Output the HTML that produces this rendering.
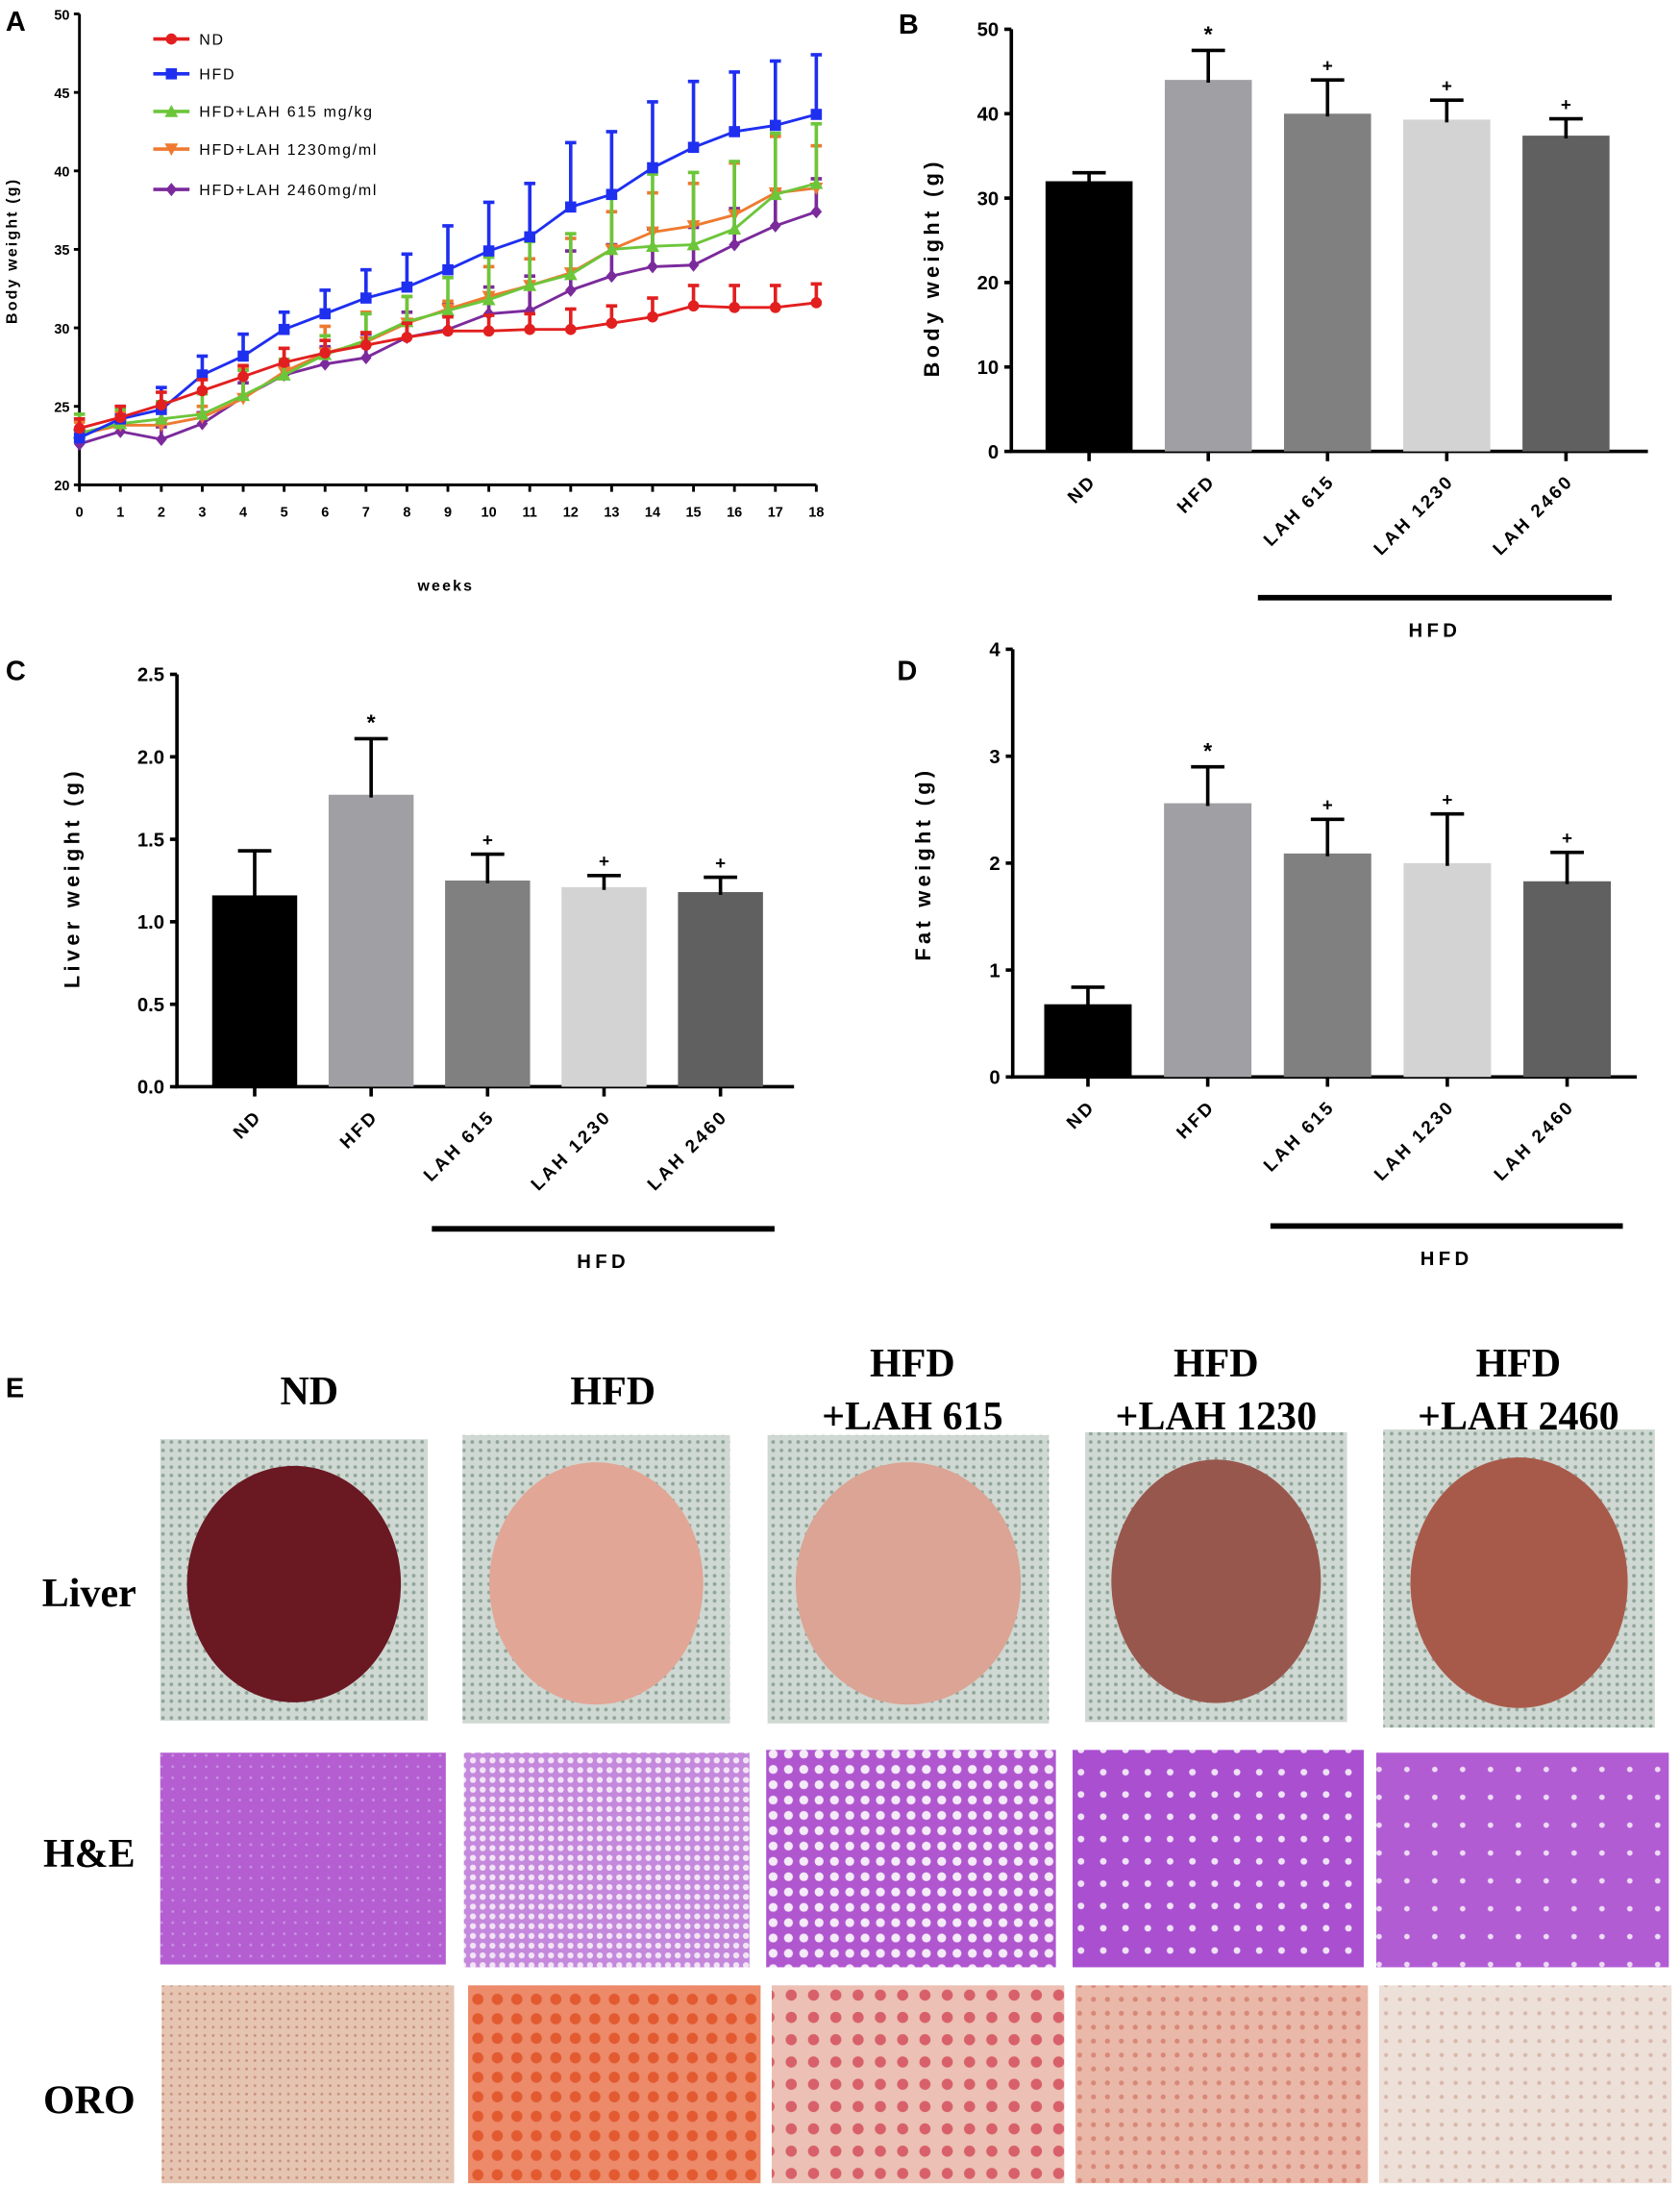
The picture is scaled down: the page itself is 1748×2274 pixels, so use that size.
<!DOCTYPE html>
<html><head><meta charset="utf-8"><title>Body, liver and fat weight figure</title>
<style>
html,body{margin:0;padding:0;background:#fff;}
svg{display:block;}
.t{font-family:"Liberation Sans",sans-serif;font-weight:bold;fill:#000;}
.s{font-family:"Liberation Serif",serif;font-weight:bold;fill:#000;}
</style></head><body>
<svg id="fig" width="1748" height="2274" viewBox="0 0 1206 1569" xmlns="http://www.w3.org/2000/svg">
<defs>
<pattern id="grid" width="6" height="6" patternUnits="userSpaceOnUse"><rect width="6" height="6" fill="#cfd8d2"/><circle cx="3" cy="3" r="1.3" fill="#8fa59a"/></pattern>
<pattern id="heA" width="8" height="8" patternUnits="userSpaceOnUse"><rect width="8" height="8" fill="#b45ed2"/><circle cx="4" cy="4" r="1" fill="#c890e0"/></pattern>
<pattern id="heB" width="7" height="7" patternUnits="userSpaceOnUse"><rect width="7" height="7" fill="#c488dc"/><circle cx="3.5" cy="3.5" r="2.2" fill="#f2e4f6"/></pattern>
<pattern id="heC" width="11" height="11" patternUnits="userSpaceOnUse"><rect width="11" height="11" fill="#b057d0"/><circle cx="5" cy="5" r="3.2" fill="#f4eaf8"/></pattern>
<pattern id="heD" width="16" height="16" patternUnits="userSpaceOnUse"><rect width="16" height="16" fill="#a94fd0"/><circle cx="8" cy="8" r="2.4" fill="#efe2f6"/></pattern>
<pattern id="heE" width="20" height="20" patternUnits="userSpaceOnUse"><rect width="20" height="20" fill="#b25cd4"/><circle cx="10" cy="10" r="2" fill="#ecdcf4"/></pattern>
<pattern id="oA" width="6" height="6" patternUnits="userSpaceOnUse"><rect width="6" height="6" fill="#e6c4b2"/><circle cx="3" cy="3" r="1" fill="#c9907c"/></pattern>
<pattern id="oB" width="14" height="14" patternUnits="userSpaceOnUse"><rect width="14" height="14" fill="#ec8a6a"/><circle cx="7" cy="7" r="4" fill="#e35a30"/></pattern>
<pattern id="oC" width="16" height="16" patternUnits="userSpaceOnUse"><rect width="16" height="16" fill="#ecc0b4"/><circle cx="8" cy="8" r="4" fill="#d8606a"/></pattern>
<pattern id="oD" width="10" height="10" patternUnits="userSpaceOnUse"><rect width="10" height="10" fill="#eab8a8"/><circle cx="5" cy="5" r="1.8" fill="#d88878"/></pattern>
<pattern id="oE" width="10" height="10" patternUnits="userSpaceOnUse"><rect width="10" height="10" fill="#ede0d8"/><circle cx="5" cy="5" r="1.5" fill="#d8b8ac"/></pattern>
</defs>
<g id="pA"></g>
<g id="pB"></g>
<g id="pC"></g>
<g id="pD"></g>
<g id="pE"></g>
</svg>
<script>
// ---- Panel A data ----
const weeks = [0,1,2,3,4,5,6,7,8,9,10,11,12,13,14,15,16,17,18];
const ndMean   = [23.6,24.3,25.1,26.0,26.9,27.8,28.4,28.9,29.4,29.8,29.8,29.9,29.9,30.3,30.7,31.4,31.3,31.3,31.6];
const ndTop    = [24.2,25.0,25.9,26.7,27.6,28.7,29.2,29.7,30.3,30.7,30.8,30.9,31.2,31.4,31.9,32.7,32.7,32.7,32.8];
const hfdMean  = [23.0,24.2,24.8,27.0,28.2,29.9,30.9,31.9,32.6,33.7,34.9,35.8,37.7,38.5,40.2,41.5,42.5,42.9,43.6];
const hfdTop   = [23.5,25.0,26.2,28.2,29.6,31.0,32.4,33.7,34.7,36.5,38.0,39.2,41.8,42.5,44.4,45.7,46.3,47.0,47.4];
const l615Mean = [23.3,23.9,24.2,24.5,25.7,27.0,28.3,29.2,30.4,31.1,31.8,32.7,33.4,35.0,35.2,35.3,36.3,38.5,39.2];
const l615Top  = [24.5,24.8,25.3,25.8,27.3,28.0,29.5,30.9,32.0,33.2,34.5,35.5,36.0,38.3,39.8,39.9,40.6,42.4,43.0];
const l1230Mean= [23.2,23.8,23.8,24.3,25.5,27.2,28.4,29.1,30.3,31.2,32.0,32.7,33.5,35.0,36.1,36.5,37.2,38.6,38.9];
const l1230Top = [24.0,24.6,25.0,25.0,27.4,28.7,30.1,31.0,32.0,31.7,33.9,34.4,35.7,37.4,38.6,39.2,40.5,42.2,41.6];
const l2460Mean= [22.6,23.4,22.9,23.9,25.6,27.0,27.7,28.1,29.4,29.9,30.9,31.1,32.4,33.3,33.9,34.0,35.3,36.5,37.4];
const l2460Top = [23.0,24.0,23.7,24.6,26.5,27.6,28.8,29.6,31.0,31.5,32.6,33.3,34.9,35.3,36.3,36.4,37.6,38.8,39.5];
const aYTicks = [20,25,30,35,40,45,50];
const aSeriesNames = ["ND","HFD","HFD+LAH 615 mg/kg","HFD+LAH 1230mg/ml","HFD+LAH 2460mg/ml"];
// ---- Bar chart data ----
const groups = ["ND","HFD","LAH 615","LAH 1230","LAH 2460"];
const bodyMean = [32.0,44.0,40.0,39.3,37.4];
const bodyTop  = [33.0,47.5,44.0,41.6,39.4];
const bodyMarks= ["","*","+","+","+"];
const bodyTicks= [0,10,20,30,40,50];
const liverMean= [1.16,1.77,1.25,1.21,1.18];
const liverTop = [1.43,2.11,1.41,1.28,1.27];
const liverTicks=[0.0,0.5,1.0,1.5,2.0,2.5];
const fatMean  = [0.68,2.56,2.09,2.00,1.83];
const fatTop   = [0.84,2.90,2.41,2.46,2.10];
const fatTicks = [0,1,2,3,4];

const NS="http://www.w3.org/2000/svg";
function mk(parent,tag,attrs,text){const e=document.createElementNS(NS,tag);for(const k in attrs)e.setAttribute(k,attrs[k]);if(text!==undefined)e.textContent=text;parent.appendChild(e);return e;}

// ---------- Panel A ----------
(function(){
const g=document.getElementById('pA');
const x0=57,x1=586,yb=348,yt=10;
const xA=i=>x0+(x1-x0)*weeks[i]/18;
const yA=v=>yb-(v-20)*(yb-yt)/30;
let t=mk(g,'text',{x:4,y:22,class:'t','font-size':20});t.textContent='A';

const ax=mk(g,'path',{d:`M${x0},${yt} V${yb} H${x1}`,stroke:'#000','stroke-width':2,fill:'none'});

aYTicks.forEach(v=>{mk(g,'line',{x1:x0-4,x2:x0,y1:yA(v),y2:yA(v),stroke:'#000','stroke-width':2});
 const l=mk(g,'text',{x:x0-7,y:yA(v)+4,class:'t','font-size':10,'text-anchor':'end'},v);
 });
weeks.forEach((w,i)=>{mk(g,'line',{x1:xA(i),x2:xA(i),y1:yb,y2:yb+5,stroke:'#000','stroke-width':2});
 const l=mk(g,'text',{x:xA(i),y:371,class:'t','font-size':10,'text-anchor':'middle'},w);
 });
let xt=mk(g,'text',{x:320,y:424,class:'t','font-size':11,'text-anchor':'middle','letter-spacing':1.5},'weeks');

let yt2=mk(g,'text',{x:0,y:0,class:'t','font-size':11,'text-anchor':'middle','letter-spacing':1.5,transform:'translate(12,180) rotate(-90)'},'Body weight (g)');

const series=[
 {m:l2460Mean,t:l2460Top,c:'#7b2a9c',k:'diamond'},
 {m:l1230Mean,t:l1230Top,c:'#ee7a30',k:'tridown'},
 {m:l615Mean,t:l615Top,c:'#6cc63a',k:'tri'},
 {m:hfdMean,t:hfdTop,c:'#1f2ff0',k:'square'},
 {m:ndMean,t:ndTop,c:'#e21f1f',k:'circle'}];
function marker(p,k,x,y,c,s){
 if(k==='circle')return mk(p,'circle',{cx:x,cy:y,r:s,fill:c});
 if(k==='square')return mk(p,'rect',{x:x-s,y:y-s,width:2*s,height:2*s,fill:c});
 if(k==='tri')return mk(p,'polygon',{points:`${x},${y-s*1.2} ${x-s*1.2},${y+s} ${x+s*1.2},${y+s}`,fill:c});
 if(k==='tridown')return mk(p,'polygon',{points:`${x},${y+s*1.2} ${x-s*1.2},${y-s} ${x+s*1.2},${y-s}`,fill:c});
 return mk(p,'polygon',{points:`${x},${y-s*1.2} ${x+s},${y} ${x},${y+s*1.2} ${x-s},${y}`,fill:c});
}
series.forEach((s,si)=>{
 const sg=mk(g,'g',{});
 
 
 s.m.forEach((v,i)=>{mk(sg,'line',{x1:xA(i),x2:xA(i),y1:yA(v),y2:yA(s.t[i]),stroke:s.c,'stroke-width':2.5});
  mk(sg,'line',{x1:xA(i)-4,x2:xA(i)+4,y1:yA(s.t[i]),y2:yA(s.t[i]),stroke:s.c,'stroke-width':2.5});});
 mk(sg,'polyline',{points:s.m.map((v,i)=>xA(i)+','+yA(v)).join(' '),fill:'none',stroke:s.c,'stroke-width':2});
 s.m.forEach((v,i)=>{const m=marker(sg,s.k,xA(i),yA(v),s.c,4);
  });
});
const legC=['#e21f1f','#1f2ff0','#6cc63a','#ee7a30','#7b2a9c'],legK=['circle','square','tri','tridown','diamond'],legY=[28,53,80,107,136];
aSeriesNames.forEach((n,i)=>{const lg=mk(g,'g',{});
 
 mk(lg,'line',{x1:110,x2:136,y1:legY[i],y2:legY[i],stroke:legC[i],'stroke-width':2.5});
 marker(lg,legK[i],123,legY[i],legC[i],4);
 mk(lg,'text',{x:143,y:legY[i]+4,class:'t','font-size':11,'letter-spacing':1.2,style:'font-weight:normal'},n);});
})();

// ---------- Bar charts ----------
const barColors=['#000000','#a0a0a4','#808080','#d3d3d3','#606060'];
function barChart(cfg){
 const g=document.getElementById(cfg.id);
 const y=v=>cfg.yb-(v-cfg.ticks[0])*(cfg.yb-cfg.yt)/(cfg.ticks[cfg.ticks.length-1]-cfg.ticks[0]);
 const lab=mk(g,'text',{x:cfg.lx,y:cfg.ly,class:'t','font-size':20},cfg.label);
 
 const ax=mk(g,'path',{d:`M${cfg.x0},${cfg.yt} V${cfg.yb} H${cfg.x1}`,stroke:'#000','stroke-width':2.5,fill:'none'});
 
 cfg.ticks.forEach(v=>{mk(g,'line',{x1:cfg.x0-5,x2:cfg.x0,y1:y(v),y2:y(v),stroke:'#000','stroke-width':2.5});
  const l=mk(g,'text',{x:cfg.x0-9,y:y(v)+5,class:'t','font-size':14,'text-anchor':'end'},cfg.fmt(v));
  });
 const slot=(cfg.barEnd-cfg.barStart)/groups.length, bw=slot*0.73;
 groups.forEach((n,i)=>{
  const cx=cfg.barStart+slot*(i+0.5);
  const b=mk(g,'rect',{x:cx-bw/2,y:y(cfg.mean[i]),width:bw,height:cfg.yb-y(cfg.mean[i]),fill:barColors[i]});
  
  mk(g,'line',{x1:cx,x2:cx,y1:y(cfg.mean[i])+2,y2:y(cfg.top[i]),stroke:'#000','stroke-width':2.5});
  mk(g,'line',{x1:cx-12,x2:cx+12,y1:y(cfg.top[i]),y2:y(cfg.top[i]),stroke:'#000','stroke-width':2.5});
  if(bodyMarks[i]){const s=mk(g,'text',{x:cx,y:y(cfg.top[i])-6,class:'t','font-size':bodyMarks[i]==='*'?16:13,'text-anchor':'middle'},bodyMarks[i]);
   }
  mk(g,'line',{x1:cx,x2:cx,y1:cfg.yb,y2:cfg.yb+7,stroke:'#000','stroke-width':2.5});
  const l=mk(g,'text',{x:0,y:0,class:'t','font-size':13,'text-anchor':'end','letter-spacing':2,transform:`translate(${cx+6},${cfg.yb+22}) rotate(-45)`},n);
  
 });
 const ul=mk(g,'line',{x1:cfg.ulx0,x2:cfg.ulx1,y1:cfg.uly,y2:cfg.uly,stroke:'#000','stroke-width':4});
 
 const h=mk(g,'text',{x:(cfg.ulx0+cfg.ulx1)/2,y:cfg.uly+28,class:'t','font-size':14,'text-anchor':'middle','letter-spacing':3},'HFD');
 
 const yt=mk(g,'text',{x:0,y:0,class:'t','font-size':15,'text-anchor':'middle','letter-spacing':3,transform:`translate(${cfg.ytx},${cfg.yty}) rotate(-90)`},cfg.title);
 
}
barChart({id:'pB',label:'B',lx:645,ly:24,x0:726,x1:1183,yt:21,yb:324,ticks:bodyTicks,fmt:v=>String(v),barStart:739,barEnd:1167,mean:bodyMean,top:bodyTop,ulx0:903,ulx1:1157,uly:429,ytx:674,yty:192,title:'Body weight (g)'});
barChart({id:'pC',label:'C',lx:4,ly:488,x0:127,x1:570,yt:484,yb:780,ticks:liverTicks,fmt:v=>v.toFixed(1),barStart:141,barEnd:559,mean:liverMean,top:liverTop,ulx0:310,ulx1:556,uly:882,ytx:57,yty:630,title:'Liver weight (g)'});
barChart({id:'pD',label:'D',lx:644,ly:488,x0:727,x1:1175,yt:466,yb:773,ticks:fatTicks,fmt:v=>String(v),barStart:738,barEnd:1168,mean:fatMean,top:fatTop,ulx0:912,ulx1:1165,uly:880,ytx:668,yty:620,title:'Fat weight (g)'});

// ---------- Panel E ----------
(function(){
const g=document.getElementById('pE');
const l=mk(g,'text',{x:4,y:1003,class:'t','font-size':20},'E');

const heads=[[222,['ND']],[440,['HFD']],[655,['HFD','+LAH 615']],[873,['HFD','+LAH 1230']],[1090,['HFD','+LAH 2460']]];
heads.forEach(h=>{const tg=mk(g,'g',{});
 if(h[1].length===1)mk(tg,'text',{x:h[0],y:1008,class:'s','font-size':29,'text-anchor':'middle'},h[1][0]);
 else{mk(tg,'text',{x:h[0],y:988,class:'s','font-size':29,'text-anchor':'middle'},h[1][0]);
  mk(tg,'text',{x:h[0],y:1026,class:'s','font-size':29,'text-anchor':'middle'},h[1][1]);}});
[['Liver',1153],['H&E',1340],['ORO',1517]].forEach(r=>{const t=mk(g,'text',{x:64,y:r[1],class:'s','font-size':29,'text-anchor':'middle'},r[0]);
 });
const liv=[[115,1033,192,202,'#6a1822'],[332,1030,192,207,'#e2a696'],[551,1030,202,207,'#dba494'],[779,1028,188,208,'#98574d'],[993,1026,195,214,'#a85a4a']];
liv.forEach((p,i)=>{const tg=mk(g,'g',{});
 mk(tg,'rect',{x:p[0],y:p[1],width:p[2],height:p[3],fill:'url(#grid)'});
 mk(tg,'ellipse',{cx:p[0]+p[2]/2,cy:p[1]+p[3]/2+3,rx:p[2]*0.4,ry:p[3]*0.42,fill:p[4]});});
const he=[[115,1258,205,152,'heA'],[333,1258,205,154,'heB'],[550,1256,208,156,'heC'],[770,1256,209,156,'heD'],[988,1258,210,154,'heE']];
he.forEach(p=>{const r=mk(g,'rect',{x:p[0],y:p[1],width:p[2],height:p[3],fill:`url(#${p[4]})`});
 });
const oro=[[116,'oA'],[336,'oB'],[554,'oC'],[772,'oD'],[990,'oE']];
oro.forEach(p=>{const r=mk(g,'rect',{x:p[0],y:1425,width:210,height:142,fill:`url(#${p[1]})`});
 });
})();
</script>
</body></html>
